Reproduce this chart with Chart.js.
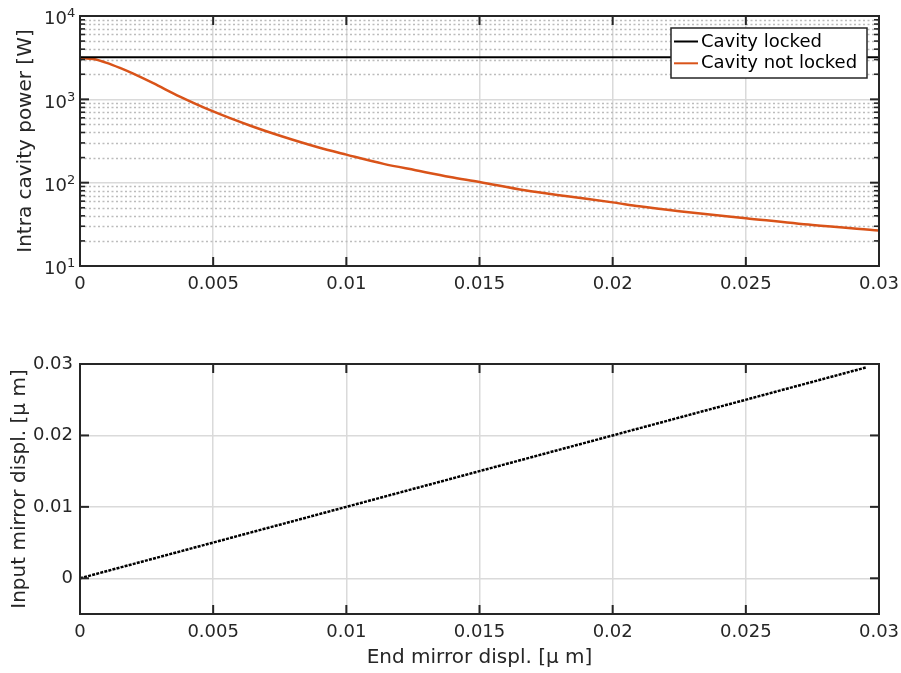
<!DOCTYPE html>
<html><head><meta charset="utf-8">
<script src="https://cdn.jsdelivr.net/npm/chart.js@4"></script>
<style>
html,body{margin:0;padding:0;background:#fff;}
#wrap{position:relative;width:901px;height:673px;overflow:hidden;}
.box{position:absolute;left:0;width:901px;overflow:hidden;}
</style></head><body>
<div id="wrap">
<div class="box" style="top:0;height:300px"><canvas id="topChart" width="940" height="300"></canvas></div>
<div class="box" style="top:340px;height:333px"><canvas id="botChart" width="940" height="333"></canvas></div>
</div>
<script>
// ---- data ----
const xTicks = [0, 0.005, 0.01, 0.015, 0.02, 0.025, 0.03];
const xTickLabels = ['0', '0.005', '0.01', '0.015', '0.02', '0.025', '0.03'];

const powerTicks = [10, 100, 1000, 10000];
const powerTickExponents = ['1', '2', '3', '4'];
const powerMinorTicks = [20, 30, 40, 50, 60, 70, 80, 90, 200, 300, 400, 500, 600, 700, 800, 900, 2000, 3000, 4000, 5000, 6000, 7000, 8000, 9000];

const lockedX = [0, 0.03];
const lockedPower = [3200, 3200];

const unlockedX = [0, 0.0005, 0.001, 0.0015, 0.002, 0.00275, 0.00375, 0.005, 0.0064, 0.0076, 0.0089, 0.01, 0.0114, 0.0126, 0.0139, 0.015, 0.0167, 0.0183, 0.02, 0.021, 0.0225, 0.025, 0.0275, 0.03];
const unlockedPower = [3150, 3040, 2740, 2380, 2030, 1560, 1080, 716, 482, 358, 268, 217, 168, 141, 117, 102, 81, 68.5, 58, 52, 45.5, 37.5, 31, 26.7];

const inputTicks = [0, 0.01, 0.02, 0.03];
const inputTickLabels = ['0', '0.01', '0.02', '0.03'];
const endMirrorDispl = [0, 0.01, 0.02, 0.0295];
const inputMirrorDispl = [0, 0.01, 0.02, 0.0295];

// ---- styling ----
Chart.defaults.font.family = "'DejaVu Sans', sans-serif";
Chart.defaults.color = '#262626';
const AXIS = '#262626';
const GRID = '#dadada';

function seg(ctx, x1, y1, x2, y2) { ctx.beginPath(); ctx.moveTo(x1, y1); ctx.lineTo(x2, y2); ctx.stroke(); }

const matlabPlugin = {
  id: 'matlab',
  beforeDatasetsDraw(chart, args, opts) {
    if (!opts.minorY) return;
    const { ctx, chartArea: a } = chart; const ys = chart.scales.y;
    ctx.save();
    ctx.strokeStyle = '#bcbcbc'; ctx.lineWidth = 1.3; ctx.setLineDash([2, 2.5]);
    opts.minorY.forEach(v => { const p = Math.round(ys.getPixelForValue(v)) + 0.5; seg(ctx, a.left, p, a.right, p); });
    ctx.restore();
  },
  afterDraw(chart, args, opts) {
    const { ctx, chartArea: a } = chart; const xs = chart.scales.x, ys = chart.scales.y;
    ctx.save();
    ctx.strokeStyle = AXIS; ctx.lineWidth = 2;
    const L = 9;
    xs.ticks.forEach(t => { const p = xs.getPixelForValue(t.value); seg(ctx, p, a.bottom, p, a.bottom - L); seg(ctx, p, a.top, p, a.top + L); });
    ys.ticks.forEach(t => { const p = ys.getPixelForValue(t.value); seg(ctx, a.left, p, a.left + L, p); seg(ctx, a.right, p, a.right - L, p); });
    if (opts.minorY) {
      ctx.lineWidth = 1.6;
      opts.minorY.forEach(v => { const p = ys.getPixelForValue(v); seg(ctx, a.left, p, a.left + 5, p); seg(ctx, a.right, p, a.right - 5, p); });
    }
    ctx.lineWidth = 2;
    ctx.strokeRect(a.left, a.top, a.width, a.height);
    if (opts.expLabels) {
      ctx.fillStyle = AXIS;
      opts.expLabels.values.forEach((v, i) => {
        const p = ys.getPixelForValue(v);
        ctx.font = "18px 'DejaVu Sans'"; ctx.textAlign = 'right'; ctx.textBaseline = 'middle';
        ctx.fillText('10', a.left - 13, p + 3.5);
        ctx.font = "13px 'DejaVu Sans'"; ctx.textAlign = 'left';
        ctx.fillText(opts.expLabels.exps[i], a.left - 13, p - 2);
      });
    }
    if (opts.legend) {
      const lx = 671, ly = 28, lw = 196, lh = 50;
      ctx.fillStyle = '#fff'; ctx.fillRect(lx, ly, lw, lh);
      ctx.strokeStyle = AXIS; ctx.lineWidth = 1.5; ctx.strokeRect(lx, ly, lw, lh);
      chart.data.datasets.forEach((ds, i) => {
        const y = ly + 13.5 + i * 21.8;
        ctx.strokeStyle = ds.borderColor; ctx.lineWidth = 2; seg(ctx, lx + 3, y, lx + 27, y);
        ctx.fillStyle = '#000'; ctx.font = "18px 'DejaVu Sans'"; ctx.textAlign = 'left'; ctx.textBaseline = 'middle';
        ctx.fillText(ds.label, lx + 30, y + 0.5);
      });
    }
    ctx.restore();
  }
};

function xScale(height, pad) {
  return {
    type: 'linear', min: 0, max: 0.03,
    afterBuildTicks: s => { s.ticks = xTicks.map(v => ({ value: v })); },
    afterFit: s => { s.height = height; },
    grid: { color: GRID, lineWidth: 1.5, drawTicks: false },
    border: { display: false },
    ticks: { padding: pad, font: { size: 18 }, maxRotation: 0, autoSkip: false, callback: (v, i) => xTickLabels[i] }
  };
}

new Chart(document.getElementById('topChart'), {
  type: 'scatter',
  data: {
    datasets: [
      { label: 'Cavity locked', data: lockedX.map((x, i) => ({ x, y: lockedPower[i] })), borderColor: '#000000', backgroundColor: '#000000', borderWidth: 2, pointRadius: 0, showLine: true },
      { label: 'Cavity not locked', data: unlockedX.map((x, i) => ({ x, y: unlockedPower[i] })), borderColor: '#D95319', backgroundColor: '#D95319', borderWidth: 2.5, pointRadius: 0, showLine: true, cubicInterpolationMode: 'monotone' }
    ]
  },
  options: {
    responsive: false, animation: false,
    layout: { padding: { top: 16, right: 61, left: 0, bottom: 0 } },
    plugins: {
      legend: { display: false }, tooltip: { enabled: false },
      matlab: { minorY: powerMinorTicks, expLabels: { values: powerTicks, exps: powerTickExponents }, legend: true }
    },
    scales: {
      x: xScale(34, 8),
      y: {
        type: 'logarithmic', min: 10, max: 10000,
        afterBuildTicks: s => { s.ticks = powerTicks.map(v => ({ value: v })); },
        afterFit: s => { s.width = 80; },
        grid: { color: GRID, lineWidth: 1.5, drawTicks: false },
        border: { display: false },
        ticks: { display: false },
        title: { display: true, text: 'Intra cavity power [W]', font: { size: 20 }, color: AXIS, padding: { top: 13.5, bottom: 0 } }
      }
    }
  },
  plugins: [matlabPlugin]
});

new Chart(document.getElementById('botChart'), {
  type: 'scatter',
  data: {
    datasets: [
      { label: 'Input vs end mirror', data: endMirrorDispl.map((x, i) => ({ x, y: inputMirrorDispl[i] })), borderColor: '#000000', backgroundColor: '#000000', borderWidth: 2.5, borderDash: [3, 1.2], pointRadius: 0, showLine: true }
    ]
  },
  options: {
    responsive: false, animation: false,
    layout: { padding: { top: 24, right: 61, left: 0, bottom: 0 } },
    plugins: { legend: { display: false }, tooltip: { enabled: false }, matlab: {} },
    scales: {
      x: Object.assign(xScale(59, 8), {
        title: { display: true, text: 'End mirror displ. [μ m]', font: { size: 20 }, color: AXIS, padding: { top: 0, bottom: 3 } }
      }),
      y: {
        type: 'linear', min: -0.005, max: 0.03,
        afterBuildTicks: s => { s.ticks = inputTicks.map(v => ({ value: v })); },
        afterFit: s => { s.width = 80; },
        grid: { color: GRID, lineWidth: 1.5, drawTicks: false },
        border: { display: false },
        ticks: { padding: 7, font: { size: 18 }, callback: (v, i) => inputTickLabels[i] },
        title: { display: true, text: 'Input mirror displ. [μ m]', font: { size: 20 }, color: AXIS, padding: { top: 8, bottom: 0 } }
      }
    }
  },
  plugins: [matlabPlugin]
});
</script>
</body></html>
